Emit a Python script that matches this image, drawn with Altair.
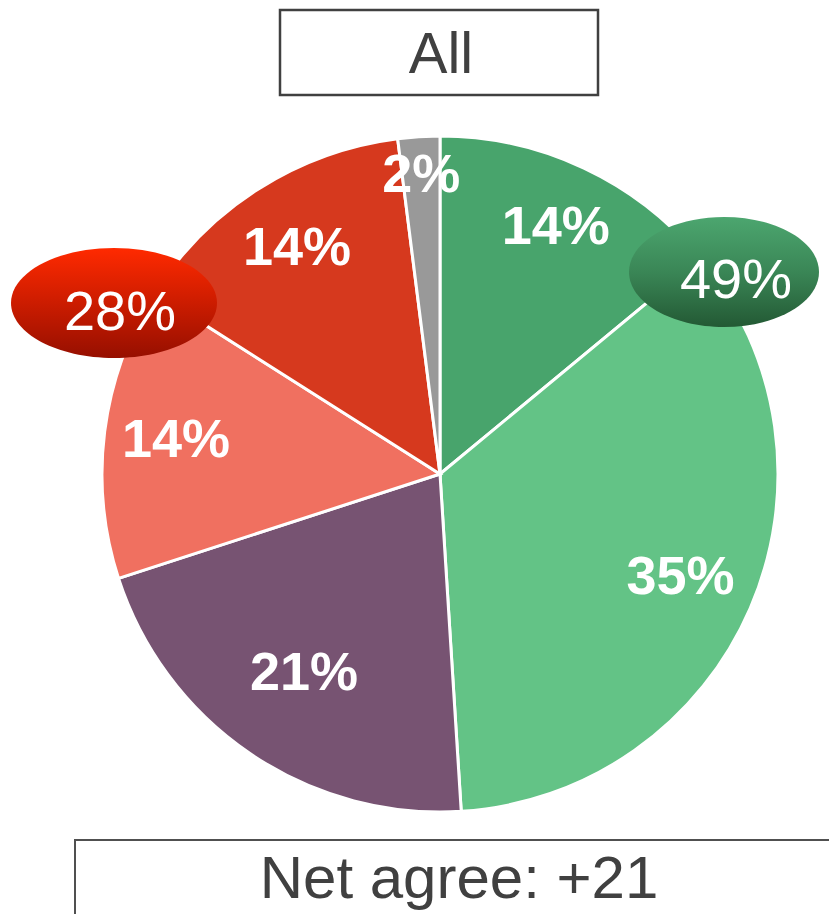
import altair as alt
import pandas as pd

# ---- data ----
categories = ["Strongly agree", "Agree", "Neither", "Disagree", "Strongly disagree", "Don't know"]
values = [14, 35, 21, 14, 14, 2]
labels = ["14%", "35%", "21%", "14%", "14%", "2%"]
colors = ["#48A46C", "#63C386", "#775372", "#F07060", "#D6391E", "#999999"]
agree_total = ["49%"]
disagree_total = ["28%"]
title_text = ["All"]
footer_text = ["Net agree: +21"]

df = pd.DataFrame({
    "category": categories,
    "value": values,
    "label": labels,
    "order": list(range(len(categories))),
})

FONT = "Liberation Sans"
CX, CY, R = 432, 466, 338
# label distance from centre, per slice (layout, in px)
LABEL_R_EXPR = "[272, 262, 242, 266, 267, 299][datum.order]"

pie = alt.Chart(df).mark_arc(outerRadius=R, stroke="white", strokeWidth=3).encode(
    theta=alt.Theta("value:Q", stack=True),
    order=alt.Order("order:Q"),
    x=alt.value(CX),
    y=alt.value(CY),
    color=alt.Color("category:N", scale=alt.Scale(domain=categories, range=colors), legend=None),
)

slice_labels = alt.Chart(df).transform_window(
    cum="sum(value)", sort=[alt.SortField("order")], frame=[None, 0]
).transform_joinaggregate(
    total="sum(value)"
).transform_calculate(
    ang="2 * PI * (datum.cum - datum.value / 2) / datum.total",
    lr=LABEL_R_EXPR,
).mark_text(font=FONT, fontWeight="bold", fontSize=54, color="white",
            align="center", baseline="middle").encode(
    text="label:N",
    theta=alt.Theta("ang:Q", scale=None),
    radius=alt.Radius("lr:Q", scale=None),
    x=alt.value(CX),
    y=alt.value(CY),
)


def ellipse_path(k):
    c = 0.5523
    kk = c * k
    return (f"M -1 0 C -1 {-kk} {-c} {-k} 0 {-k} C {c} {-k} 1 {-kk} 1 0 "
            f"C 1 {kk} {c} {k} 0 {k} C {-c} {k} -1 {kk} -1 0 Z")


green_grad = alt.Gradient(
    gradient="linear", x1=0, x2=0, y1=0, y2=1,
    stops=[alt.GradientStop(color="#4CA66F", offset=0),
           alt.GradientStop(color="#3A8656", offset=0.5),
           alt.GradientStop(color="#235934", offset=1)],
)
red_grad = alt.Gradient(
    gradient="linear", x1=0, x2=0, y1=0, y2=1,
    stops=[alt.GradientStop(color="#FF2A00", offset=0),
           alt.GradientStop(color="#CC1C00", offset=0.5),
           alt.GradientStop(color="#960F00", offset=1)],
)

gdf = pd.DataFrame({"t": agree_total})
rdf = pd.DataFrame({"t": disagree_total})

green_ell = alt.Chart(gdf).mark_point(
    shape=ellipse_path(110 / 190), size=190 ** 2, filled=True, fill=green_grad,
    opacity=1, strokeWidth=0,
).encode(x=alt.value(716), y=alt.value(264))
green_txt = alt.Chart(gdf).mark_text(
    font=FONT, fontSize=56, color="white", align="center", baseline="alphabetic"
).encode(text="t:N", x=alt.value(728), y=alt.value(290))

red_ell = alt.Chart(rdf).mark_point(
    shape=ellipse_path(110 / 206), size=206 ** 2, filled=True, fill=red_grad,
    opacity=1, strokeWidth=0,
).encode(x=alt.value(106), y=alt.value(295))
red_txt = alt.Chart(rdf).mark_text(
    font=FONT, fontSize=56, color="white", align="center", baseline="alphabetic"
).encode(text="t:N", x=alt.value(112), y=alt.value(322))

tdf = pd.DataFrame({"t": title_text})
fdf = pd.DataFrame({"t": footer_text})

title_box = alt.Chart(tdf).mark_rect(fill="white", stroke="#404040", strokeWidth=2.5).encode(
    x=alt.value(272), x2=alt.value(590), y=alt.value(2), y2=alt.value(87))
title_txt = alt.Chart(tdf).mark_text(
    font=FONT, fontSize=58, color="#404040", align="center", baseline="alphabetic"
).encode(text="t:N", x=alt.value(433), y=alt.value(65))

foot_box = alt.Chart(fdf).mark_rect(fill="white", stroke="#505050", strokeWidth=2).encode(
    x=alt.value(67), x2=alt.value(900), y=alt.value(832), y2=alt.value(1000))
foot_txt = alt.Chart(fdf).mark_text(
    font=FONT, fontSize=60, color="#404040", align="center", baseline="alphabetic"
).encode(text="t:N", x=alt.value(451), y=alt.value(890))

chart = alt.layer(
    title_box, title_txt, foot_box, foot_txt,
    pie, slice_labels,
    green_ell, green_txt, red_ell, red_txt,
).properties(
    width=821, height=906, padding=0, autosize="none",
).configure_view(stroke=None)

chart.save("out.html", embed_options={"renderer": "svg", "actions": False})
